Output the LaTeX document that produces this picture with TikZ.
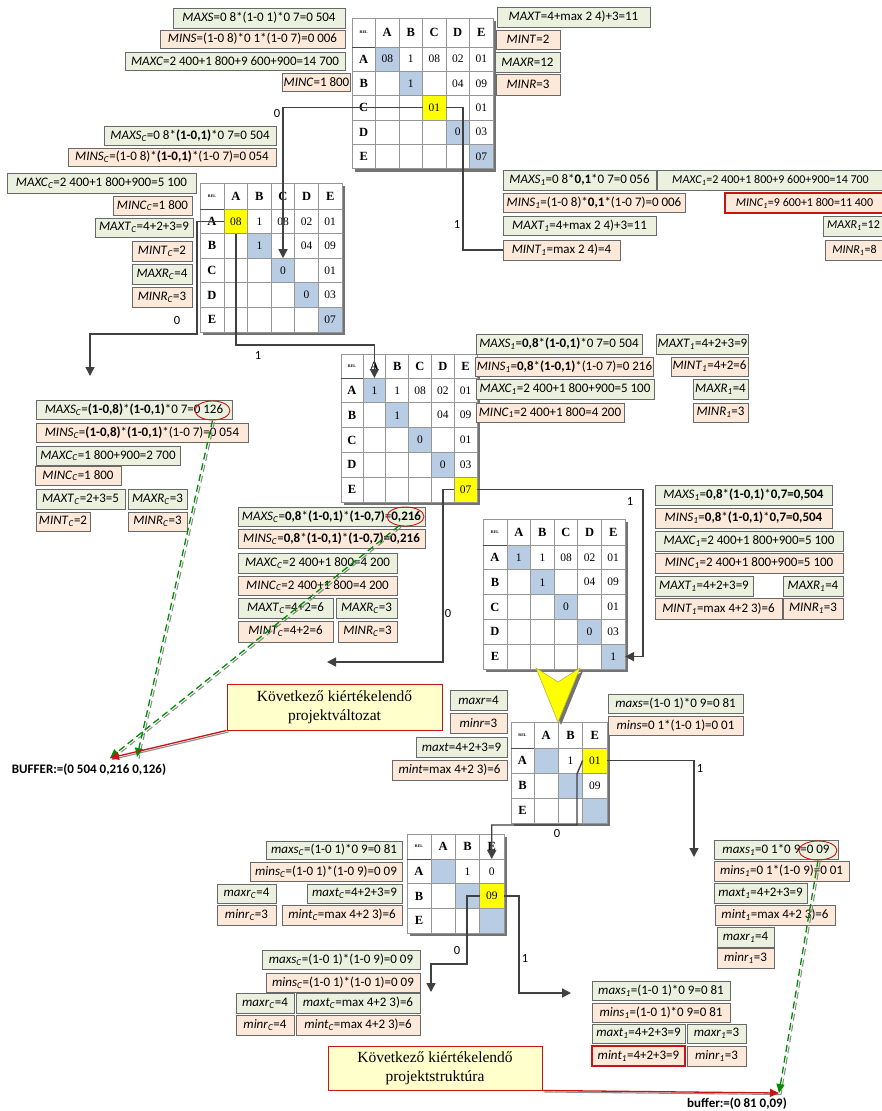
\documentclass[tikz,border=0pt]{standalone}
\usepackage{fontspec}
\setmainfont{Carlito}
\newfontfamily\cellfont{Liberation Serif}
\usetikzlibrary{arrows.meta,shapes.geometric}

\definecolor{gfill}{RGB}{235,241,222}
\definecolor{pfill}{RGB}{253,233,217}
\definecolor{boxline}{RGB}{105,105,105}
\definecolor{diagblue}{RGB}{184,204,228}
\definecolor{selyellow}{RGB}{255,255,0}
\definecolor{connc}{RGB}{64,64,64}
\definecolor{redc}{RGB}{200,20,20}
\definecolor{greenc}{RGB}{0,140,0}
\definecolor{callfill}{RGB}{255,255,204}
\definecolor{gridc}{RGB}{150,150,150}

\tikzset{
  lbox/.style={draw=boxline, line width=0.8pt, inner sep=1pt, outer sep=0pt, font=\fontsize{13}{15}\selectfont},
  gb/.style={lbox, fill=gfill},
  pb/.style={lbox, fill=pfill},
  pr/.style={lbox, fill=pfill, draw=redc, line width=1.1pt},
  edgetext/.style={font=\fontsize{12}{14}\selectfont},
  cell/.style={draw=gridc, fill=white, line width=0.7pt, inner sep=0pt, outer sep=0pt},
  hcell/.style={cell, font=\cellfont\bfseries\fontsize{12.5}{12.5}\selectfont},
  ctext/.style={font=\cellfont\fontsize{11.5}{11.5}\selectfont, inner sep=0pt},
  cellline/.style={draw=gridc, line width=0.7pt},
  hline/.style={draw=black!70, line width=1pt},
  mshadow/.style={fill=black!55},
  conn/.style={draw=connc, line width=1.4pt},
  arr/.style={conn, -{Triangle[length=9pt,width=9pt]}},
  clab/.style={font=\fontsize{12.5}{12.5}\selectfont, inner sep=0pt},
  redell/.style={ellipse, draw=redc, line width=0.9pt, inner sep=0pt},
  gdash/.style={draw=greenc, line width=1.3pt, dash pattern=on 7pt off 4pt, -{Triangle[length=9pt,width=8pt]}},
  gshade/.style={draw=black!45, line width=1.1pt, dash pattern=on 7pt off 4pt},
  redarr/.style={draw=redc, line width=1.3pt, -{Triangle[length=9pt,width=8pt]}},
  callout/.style={draw=redc, fill=callfill, line width=0.9pt, align=center, font=\cellfont\fontsize{15.5}{19}\selectfont},
  buf/.style={font=\bfseries\fontsize{13}{13}\selectfont, inner sep=0pt},
}

% italic variable name with italic subscript
\newcommand\vsub[2]{\textit{#1}\textsubscript{\textit{#2}}}
% labelled box given by its corners: name, style, x1, y1, x2, y2, text
\newcommand\labx[7]{\node[#2, minimum width={#5-#3}, minimum height={#6-#4}] (#1) at ({(#3+#5)/2},{(#4+#6)/2}) {#7};}
% DSM grid: name, x0, y0, header col width, cell width, header row height, row height, letters
\newcommand\dsmgrid[8]{%
  \foreach \cl [count=\n] in {#8} {\xdef\dsmn{\n}}%
  \fill[mshadow] ({#2+3},{#3+3}) rectangle ({#2+#4+\dsmn*#5+3},{#3+#6+\dsmn*#7+3});%
  \node[hcell, minimum width=#4, minimum height=#6] (#1-0-0) at ({#2+#4/2},{#3+#6/2}) {\fontsize{4}{4}\selectfont REL};%
  \foreach \cl [count=\i] in {#8} {%
    \node[hcell, minimum width=#5, minimum height=#6] (#1-0-\i) at ({#2+#4+(\i-0.5)*#5},{#3+#6/2}) {\cl};%
    \node[hcell, minimum width=#4, minimum height=#7] (#1-\i-0) at ({#2+#4/2},{#3+#6+(\i-0.5)*#7}) {\cl};%
    \foreach \cm [count=\j] in {#8} {%
      \node[cell, minimum width=#5, minimum height=#7] (#1-\i-\j) at ({#2+#4+(\j-0.5)*#5},{#3+#6+(\i-0.5)*#7}) {};%
    }%
  }%
  \draw[hline] (#1-0-0.south west) -- (#1-0-\dsmn.south east);%
}
% cell value: cell name, fill colour, text
\newcommand\cellv[3]{\draw[cellline, fill=#2] (#1.south west) rectangle (#1.north east); \node[ctext] (#1-v) at (#1) {#3};}

\begin{document}
\begin{tikzpicture}[x=1pt, y=-1pt]
\fill[white] (0,0) rectangle (882,1111);
\useasboundingbox (0,0) rectangle (882,1111);

% ---------- matrices ----------
\dsmgrid{m1}{352}{18}{23.5}{23.5}{29}{24.3}{A,B,C,D,E}
\cellv{m1-1-1}{diagblue}{08}\cellv{m1-1-2}{white}{1}\cellv{m1-1-3}{white}{08}\cellv{m1-1-4}{white}{02}\cellv{m1-1-5}{white}{01}
\cellv{m1-2-2}{diagblue}{1}\cellv{m1-2-4}{white}{04}\cellv{m1-2-5}{white}{09}
\cellv{m1-3-3}{selyellow}{01}\cellv{m1-3-5}{white}{01}
\cellv{m1-4-4}{diagblue}{0}\cellv{m1-4-5}{white}{03}
\cellv{m1-5-5}{diagblue}{07}

\dsmgrid{m2}{200}{183}{24}{23.6}{26}{24.6}{A,B,C,D,E}
\cellv{m2-1-1}{selyellow}{08}\cellv{m2-1-2}{white}{1}\cellv{m2-1-3}{white}{08}\cellv{m2-1-4}{white}{02}\cellv{m2-1-5}{white}{01}
\cellv{m2-2-2}{diagblue}{1}\cellv{m2-2-4}{white}{04}\cellv{m2-2-5}{white}{09}
\cellv{m2-3-3}{diagblue}{0}\cellv{m2-3-5}{white}{01}
\cellv{m2-4-4}{diagblue}{0}\cellv{m2-4-5}{white}{03}
\cellv{m2-5-5}{diagblue}{07}

\dsmgrid{m3}{341}{354}{22}{22.8}{24}{24.8}{A,B,C,D,E}
\cellv{m3-1-1}{diagblue}{1}\cellv{m3-1-2}{white}{1}\cellv{m3-1-3}{white}{08}\cellv{m3-1-4}{white}{02}\cellv{m3-1-5}{white}{01}
\cellv{m3-2-2}{diagblue}{1}\cellv{m3-2-4}{white}{04}\cellv{m3-2-5}{white}{09}
\cellv{m3-3-3}{diagblue}{0}\cellv{m3-3-5}{white}{01}
\cellv{m3-4-4}{diagblue}{0}\cellv{m3-4-5}{white}{03}
\cellv{m3-5-5}{selyellow}{07}

\dsmgrid{m4}{483}{519}{24}{23.6}{26}{24.8}{A,B,C,D,E}
\cellv{m4-1-1}{diagblue}{1}\cellv{m4-1-2}{white}{1}\cellv{m4-1-3}{white}{08}\cellv{m4-1-4}{white}{02}\cellv{m4-1-5}{white}{01}
\cellv{m4-2-2}{diagblue}{1}\cellv{m4-2-4}{white}{04}\cellv{m4-2-5}{white}{09}
\cellv{m4-3-3}{diagblue}{0}\cellv{m4-3-5}{white}{01}
\cellv{m4-4-4}{diagblue}{0}\cellv{m4-4-5}{white}{03}
\cellv{m4-5-5}{diagblue}{1}

\dsmgrid{m5}{511}{722}{23}{24.3}{26}{25}{A,B,E}
\cellv{m5-1-1}{diagblue}{}\cellv{m5-1-2}{white}{1}\cellv{m5-1-3}{selyellow}{01}
\cellv{m5-2-2}{diagblue}{}\cellv{m5-2-3}{white}{09}
\cellv{m5-3-3}{diagblue}{}

\dsmgrid{m6}{407}{834}{24}{24.3}{25}{24.7}{A,B,E}
\cellv{m6-1-1}{diagblue}{}\cellv{m6-1-2}{white}{1}\cellv{m6-1-3}{white}{0}
\cellv{m6-2-2}{diagblue}{}\cellv{m6-2-3}{selyellow}{09}
\cellv{m6-3-3}{diagblue}{}

% ---------- yellow step arrow ----------
\fill[black!55] (539,671) -- (561,685) -- (583,671) -- (561,725) -- cycle;
\filldraw[fill=selyellow, draw=yellow!70!black, line width=0.6pt] (536,668) -- (558,682) -- (580,668) -- (558,722) -- cycle;

% ---------- value boxes ----------
\labx{L1}{gb}{173}{8}{345}{28}{\textit{MAXS}=0 8*(1-0 1)*0 7=0 504}
\labx{L2}{pb}{160}{30}{345}{48}{\textit{MINS}=(1-0 8)*0 1*(1-0 7)=0 006}
\labx{L3}{gb}{125}{52}{345}{70}{\textit{MAXC}=2 400+1 800+9 600+900=14 700}
\labx{L4}{pb}{288}{73}{345}{91}{\textit{MINC}=1 800}
\labx{L5}{gb}{497}{7}{650}{27}{\textit{MAXT}=4+max 2 4)+3=11}
\labx{L6}{pb}{496}{30}{560}{49}{\textit{MINT}=2}
\labx{L7}{gb}{495}{52}{560}{72}{\textit{MAXR}=12}
\labx{L8}{pb}{496}{74}{560}{95}{\textit{MINR}=3}

\labx{L9}{gb}{104}{126}{276}{145}{\vsub{MAXS}{C}=0 8*\textbf{(1-0,1)}*0 7=0 504}
\labx{L10}{pb}{68}{148}{276}{166}{\vsub{MINS}{C}=(1-0 8)*\textbf{(1-0,1)}*(1-0 7)=0 054}
\labx{L11}{gb}{7}{173}{196}{193}{\vsub{MAXC}{C}=2 400+1 800+900=5 100}
\labx{L12}{pb}{113}{196}{192}{215}{\vsub{MINC}{C}=1 800}
\labx{L13}{gb}{95}{218}{193}{237}{\vsub{MAXT}{C}=4+2+3=9}
\labx{L14}{pb}{132}{241}{192}{261}{\vsub{MINT}{C}=2}
\labx{L15}{gb}{132}{264}{192}{284}{\vsub{MAXR}{C}=4}
\labx{L16}{pb}{132}{287}{192}{307}{\vsub{MINR}{C}=3}

\labx{L17}{gb}{503}{170}{656}{190}{\vsub{MAXS}{1}=0 8*\textbf{0,1}*0 7=0 056}
\labx{L18}{pb}{503}{193}{685}{212}{\vsub{MINS}{1}=(1-0 8)*\textbf{0,1}*(1-0 7)=0 006}
\labx{L19}{gb}{503}{216}{656}{235}{\vsub{MAXT}{1}=4+max 2 4)+3=11}
\labx{L20}{pb}{503}{240}{620}{260}{\vsub{MINT}{1}=max 2 4)=4}
\labx{L21}{gb,edgetext}{657}{170}{884}{190}{\vsub{MAXC}{1}=2 400+1 800+9 600+900=14 700}
\labx{L22}{pr,edgetext}{725}{193}{884}{213}{\vsub{MINC}{1}=9 600+1 800=11 400}
\labx{L23}{gb,edgetext}{823}{216}{884}{236}{\vsub{MAXR}{1}=12}
\labx{L24}{pb,edgetext}{825}{240}{884}{260}{\vsub{MINR}{1}=8}

\labx{L25}{gb}{36}{400}{232}{419}{\vsub{MAXS}{C}=\textbf{(1-0,8)}*\textbf{(1-0,1)}*0 7=0 126}
\labx{L26}{pb}{36}{423}{248}{442}{\vsub{MINS}{C}=\textbf{(1-0,8)}*\textbf{(1-0,1)}*(1-0 7)=0 054}
\labx{L27}{gb}{36}{446}{180}{465}{\vsub{MAXC}{C}=1 800+900=2 700}
\labx{L28}{pb}{35}{466}{121}{485}{\vsub{MINC}{C}=1 800}
\labx{L29}{gb}{36}{489}{125}{509}{\vsub{MAXT}{C}=2+3=5}
\labx{L30}{gb}{128}{489}{187}{509}{\vsub{MAXR}{C}=3}
\labx{L31}{pb}{36}{512}{90}{531}{\vsub{MINT}{C}=2}
\labx{L32}{pb}{128}{512}{187}{531}{\vsub{MINR}{C}=3}

\labx{L33}{gb}{476}{334}{642}{354}{\vsub{MAXS}{1}=\textbf{0,8}*\textbf{(1-0,1)}*0 7=0 504}
\labx{L34}{pb}{476}{357}{653}{376}{\vsub{MINS}{1}=\textbf{0,8}*\textbf{(1-0,1)}*(1-0 7)=0 216}
\labx{L35}{gb}{476}{379}{654}{399}{\vsub{MAXC}{1}=2 400+1 800+900=5 100}
\labx{L36}{pb}{476}{403}{624}{422}{\vsub{MINC}{1}=2 400+1 800=4 200}
\labx{L37}{gb}{657}{334}{748}{354}{\vsub{MAXT}{1}=4+2+3=9}
\labx{L38}{pb}{671}{357}{748}{376}{\vsub{MINT}{1}=4+2=6}
\labx{L39}{gb}{693}{379}{748}{399}{\vsub{MAXR}{1}=4}
\labx{L40}{pb}{693}{403}{748}{422}{\vsub{MINR}{1}=3}

\labx{L41}{gb}{238}{507}{425}{526}{\vsub{MAXS}{C}=\textbf{0,8}*\textbf{(1-0,1)}*\textbf{(1-0,7)}=\textbf{0,216}}
\labx{L42}{pb}{238}{529}{425}{548}{\vsub{MINS}{C}=\textbf{0,8}*\textbf{(1-0,1)}*\textbf{(1-0,7)=0,216}}
\labx{L43}{gb}{238}{553}{397}{573}{\vsub{MAXC}{C}=2 400+1 800=4 200}
\labx{L44}{pb}{238}{576}{397}{595}{\vsub{MINC}{C}=2 400+1 800=4 200}
\labx{L45}{gb}{238}{598}{333}{618}{\vsub{MAXT}{C}=4+2=6}
\labx{L46}{gb}{336}{598}{397}{618}{\vsub{MAXR}{C}=3}
\labx{L47}{pb}{238}{621}{333}{642}{\vsub{MINT}{C}=4+2=6}
\labx{L48}{pb}{338}{621}{397}{642}{\vsub{MINR}{C}=3}

\labx{L49}{gb}{655}{485}{832}{505}{\vsub{MAXS}{1}=\textbf{0,8}*\textbf{(1-0,1)}*\textbf{0,7=0,504}}
\labx{L50}{pb}{655}{508}{832}{528}{\vsub{MINS}{1}=\textbf{0,8}*\textbf{(1-0,1)}*\textbf{0,7=0,504}}
\labx{L51}{gb}{655}{531}{843}{551}{\vsub{MAXC}{1}=2 400+1 800+900=5 100}
\labx{L52}{pb}{655}{553}{843}{573}{\vsub{MINC}{1}=2 400+1 800+900=5 100}
\labx{L53}{gb}{655}{576}{753}{596}{\vsub{MAXT}{1}=4+2+3=9}
\labx{L54}{gb}{783}{576}{843}{596}{\vsub{MAXR}{1}=4}
\labx{L55}{pb}{655}{598}{782}{619}{\vsub{MINT}{1}=max 4+2 3)=6}
\labx{L56}{pb}{783}{598}{843}{619}{\vsub{MINR}{1}=3}

\labx{L57}{gb}{450}{690}{507}{710}{\textit{maxr}=4}
\labx{L58}{pb}{450}{713}{507}{733}{\textit{minr}=3}
\labx{L59}{gb}{416}{737}{507}{757}{\textit{maxt}=4+2+3=9}
\labx{L60}{pb}{392}{760}{507}{780}{\textit{mint}=max 4+2 3)=6}
\labx{L61}{gb}{608}{694}{743}{713}{\textit{maxs}=(1-0 1)*0 9=0 81}
\labx{L62}{pb}{608}{716}{743}{735}{\textit{mins}=0 1*(1-0 1)=0 01}

\labx{L63}{gb}{266}{841}{402}{859}{\vsub{maxs}{C}=(1-0 1)*0 9=0 81}
\labx{L64}{pb}{250}{862}{402}{881}{\vsub{mins}{C}=(1-0 1)*(1-0 9)=0 09}
\labx{L65}{gb}{217}{884}{276}{903}{\vsub{maxr}{C}=4}
\labx{L66}{gb}{307}{884}{402}{903}{\vsub{maxt}{C}=4+2+3=9}
\labx{L67}{pb}{217}{905}{276}{925}{\vsub{minr}{C}=3}
\labx{L68}{pb}{282}{905}{402}{925}{\vsub{mint}{C}=max 4+2 3)=6}

\labx{L69}{gb}{262}{950}{420}{969}{\vsub{maxs}{C}=(1-0 1)*(1-0 9)=0 09}
\labx{L70}{pb}{266}{973}{420}{992}{\vsub{mins}{C}=(1-0 1)*(1-0 1)=0 09}
\labx{L71}{gb}{236}{993}{294}{1013}{\vsub{maxr}{C}=4}
\labx{L72}{gb}{296}{993}{420}{1013}{\vsub{maxt}{C}=max 4+2 3)=6}
\labx{L73}{pb}{236}{1015}{294}{1035}{\vsub{minr}{C}=4}
\labx{L74}{pb}{296}{1015}{420}{1035}{\vsub{mint}{C}=max 4+2 3)=6}

\labx{L75}{gb}{592}{981}{730}{1000}{\vsub{maxs}{1}=(1-0 1)*0 9=0 81}
\labx{L76}{pb}{592}{1003}{730}{1022}{\vsub{mins}{1}=(1-0 1)*0 9=0 81}
\labx{L77}{gb}{592}{1024}{685}{1043}{\vsub{maxt}{1}=4+2+3=9}
\labx{L78}{gb}{687}{1024}{746}{1043}{\vsub{maxr}{1}=3}
\labx{L79}{pr}{592}{1046}{685}{1066}{\vsub{mint}{1}=4+2+3=9}
\labx{L80}{pb}{687}{1046}{746}{1066}{\vsub{minr}{1}=3}

\labx{L81}{gb}{714}{840}{838}{859}{\vsub{maxs}{1}=0 1*0 9=0 09}
\labx{L82}{pb}{714}{861}{849}{881}{\vsub{mins}{1}=0 1*(1-0 9)=0 01}
\labx{L83}{gb}{714}{883}{807}{903}{\vsub{maxt}{1}=4+2+3=9}
\labx{L84}{pb}{715}{905}{835}{925}{\vsub{mint}{1}=max 4+2 3)=6}
\labx{L85}{gb}{717}{927}{774}{947}{\vsub{maxr}{1}=4}
\labx{L86}{pb}{717}{948}{774}{968}{\vsub{minr}{1}=3}

% ---------- branching connectors ----------
\coordinate (j1) at (463,0);
\draw[arr] (m1-3-3.west) -| (m2-3-3.north);
\draw[conn] (m1-3-3.east) -- (m1-3-3.east -| j1) |- (L20.west);
\node[clab] (b1) at (277,113) {0};
\node[clab] (b2) at (457,224) {1};

\coordinate (k1) at (197,334); \coordinate (t1) at (90,376);
\draw[arr] (m2-1-1.west) -| (k1) -| (t1);
\coordinate (k2) at (300,345);
\draw[arr] (m2-1-1.south) |- (k2) -| (m3-1-1.north);
\node[clab] (b3) at (177,320) {0};
\node[clab] (b4) at (258,355) {1};

\coordinate (k3) at (443,662); \coordinate (t3) at (327,662);
\draw[arr] (m3-5-5.west) -| (k3) -- (t3);
\coordinate (k4) at (643,560);
\draw[arr] (m3-5-5.east) -| (k4) |- (m4-5-5.east);
\node[clab] (b5) at (448,613) {0};
\node[clab] (b6) at (630,501) {1};

\coordinate (t5) at (694,857);
\draw[arr] (m5-1-3.east) -| (t5);
\coordinate (k5a) at (577,774); \coordinate (k5b) at (577,825);
\draw[arr] (m5-1-3.west) -- (k5a) -- (k5b) -| (m6-1-3.north);
\node[clab] (b7) at (700,768) {1};
\node[clab] (b8) at (557,833) {0};

\coordinate (k6) at (467,964); \coordinate (t6) at (431,992);
\draw[arr] (m6-2-3.west) -| (k6) -| (t6);
\coordinate (k7) at (519,993); \coordinate (t7) at (571,993);
\draw[arr] (m6-2-3.east) -| (k7) -- (t7);
\node[clab] (b9) at (457,950) {0};
\node[clab] (b10) at (525,958) {1};

% ---------- callouts and buffers ----------
\node[callout, minimum width=215, minimum height=46] (call1) at (334.5,707) {Következő kiértékelendő\\projektváltozat};
\node[callout, minimum width=214, minimum height=44] (call2) at (435,1068) {Következő kiértékelendő\\projektstruktúra};
\node[buf] (buf1) at (89,770) {BUFFER:=(0 504 0,216 0,126)};
\node[buf] (buf2) at (737,1104) {buffer:=(0 81 0,09)};
\coordinate (bufA) at (110,758);
\coordinate (bufB) at (137,757);
\coordinate (bufC) at (779,1093);

\node[redell, minimum width=35, minimum height=19] (e1) at (212.5,410.5) {};
\node[redell, minimum width=37, minimum height=19] (e2) at (405.5,516.5) {};
\node[redell, minimum width=38, minimum height=19] (e3) at (818,850.5) {};

\begin{scope}[transform canvas={xshift=2pt,yshift=-1.5pt}]
  \draw[gshade] (e1.south) -- (bufB);
  \draw[gshade] (e2.235) -- (bufA);
  \draw[gshade] (e3.south) -- (bufC);
  \draw[draw=black!45, line width=1.1pt] (call1.south west) -- (bufA);
  \draw[draw=black!45, line width=1.1pt] (call2.south east) -- (bufC);
\end{scope}
\draw[gdash] (e1.south) -- (bufB);
\draw[gdash] (e2.235) -- (bufA);
\draw[gdash] (e3.south) -- (bufC);
\draw[redarr] (call1.south west) -- (bufA);
\draw[redarr] (call2.south east) -- (bufC);
\end{tikzpicture}
\end{document}
